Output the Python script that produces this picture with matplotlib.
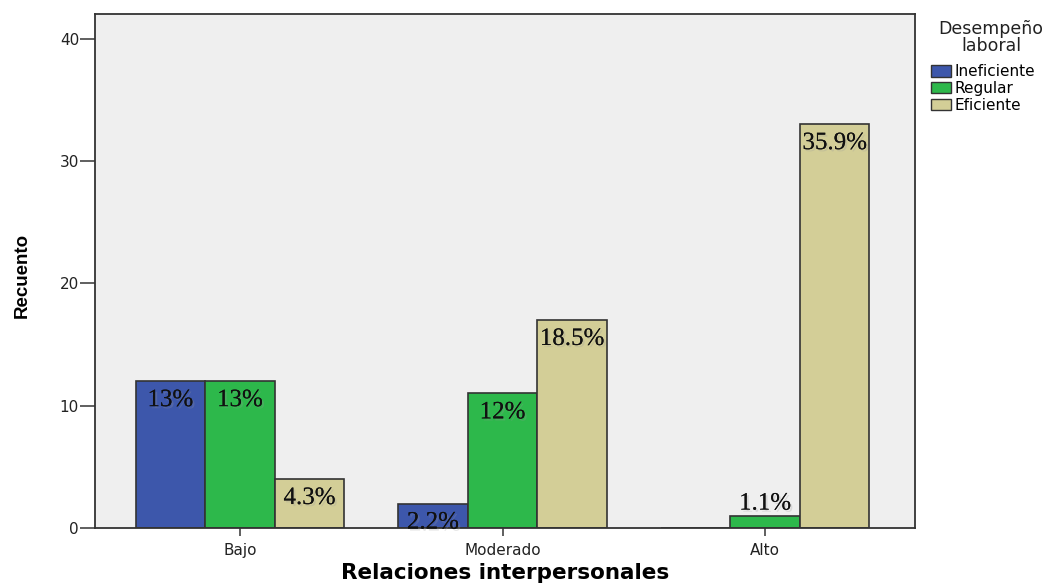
import numpy as np
import matplotlib
matplotlib.use("Agg")
import matplotlib.pyplot as plt
from matplotlib.patches import Patch
import matplotlib.patheffects as pe

# datos
categorias = ["Bajo", "Moderado", "Alto"]
series = ["Ineficiente", "Regular", "Eficiente"]
ineficiente = [12, 2, 0]
regular = [12, 11, 1]
eficiente = [4, 17, 33]
etiquetas = [["13%", "2.2%", ""], ["13%", "12%", "1.1%"], ["4.3%", "18.5%", "35.9%"]]
colores = ["#3D57AB", "#2DB84B", "#D3CE97"]

plt.rcParams['font.family'] = ['DejaVu Sans']

fig = plt.figure(figsize=(10.64, 5.85), dpi=100)
ax = fig.add_axes([0.0893, 0.0974, 0.7707, 0.8786])
ax.set_facecolor("#EFEFEF")

x = np.arange(len(categorias))
w = 0.265
valores = [ineficiente, regular, eficiente]
for i, (vals, col) in enumerate(zip(valores, colores)):
    pos = x + (i - 1) * w
    ax.bar(pos, vals, width=w, color=col, edgecolor="#333333", linewidth=1.2, zorder=2)
    for p, v, lab in zip(pos, vals, etiquetas[i]):
        if lab == "":
            continue
        if v < 1.5:
            y, va = v + 0.1, "bottom"
        else:
            y, va = v - 0.65, "top"
        ax.text(p, y, lab, ha="center", va=va, fontsize=18, family="Liberation Serif",
                color="#111111", zorder=3,
                path_effects=[pe.withSimplePatchShadow(offset=(1.5, -1.5), shadow_rgbFace="#999999", alpha=0.25),
                              pe.Normal()])

ax.set_xlim(-0.552, 2.571)
ax.set_ylim(0, 42)
ax.set_yticks([0, 10, 20, 30, 40])
ax.set_xticks(x)
ax.set_xticklabels(categorias)
ax.tick_params(axis="y", direction="out", length=10.5, width=1.2, color="#444444",
               labelsize=11, labelcolor="#222222", pad=1)
ax.tick_params(axis="x", direction="out", length=6, width=1.2, color="#444444",
               labelsize=11, labelcolor="#222222", pad=5)
for s in ax.spines.values():
    s.set_color("#333333")
    s.set_linewidth(1.3)

fig.text(22 / 1064, 1 - 275 / 585, "Recuento", rotation=90, ha="center", va="center",
         fontsize=13.5, fontweight="bold", family="Liberation Sans")
fig.text(505 / 1064, 0.004, "Relaciones interpersonales", ha="center", va="bottom",
         fontsize=15.5, fontweight="bold")

# leyenda
fig.text(991 / 1064, 1 - 20 / 585, "Desempeño\nlaboral", ha="center", va="top",
         multialignment="center", fontsize=12.5, linespacing=0.95, color="#222222")
handles = [Patch(facecolor=c, edgecolor="#333333", linewidth=1) for c in colores]
fig.legend(handles, series, loc="upper left", bbox_to_anchor=(931 / 1064, 1 - 64 / 585),
           frameon=False, fontsize=11, handlelength=1.3, handleheight=0.8,
           handletextpad=0.25, labelspacing=0.12, borderpad=0, borderaxespad=0)

fig.savefig("out.png", dpi=100)
